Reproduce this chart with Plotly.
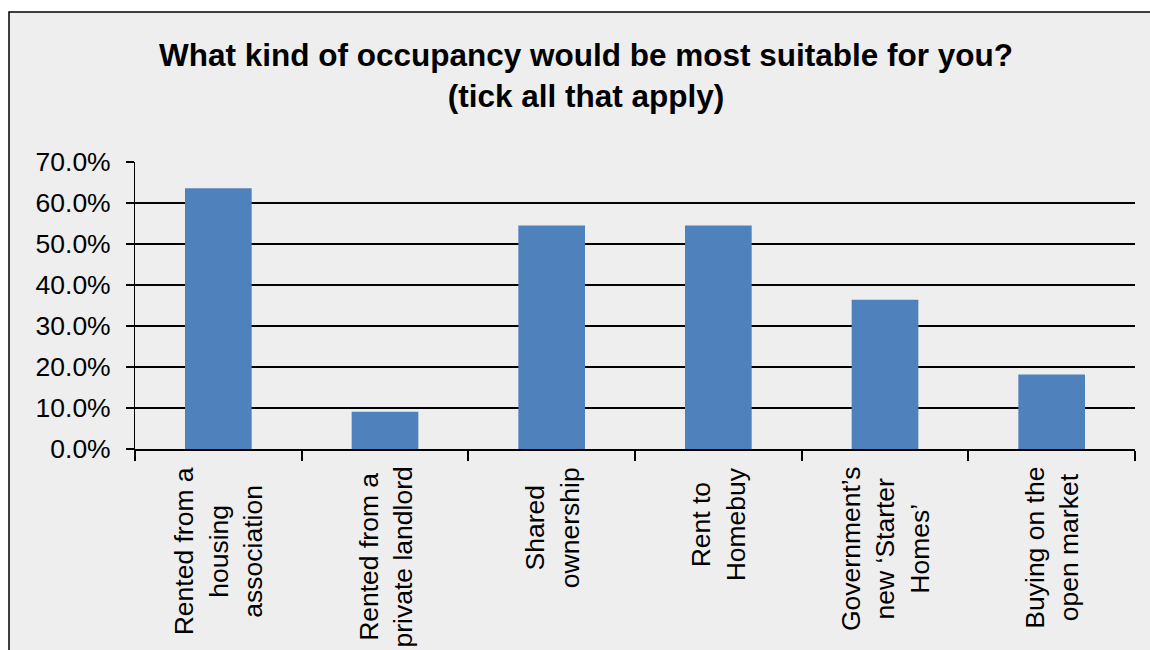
import plotly.graph_objects as go

# Survey responses: share of respondents choosing each occupancy type
categories = [
    "Rented from a<br>housing<br>association",
    "Rented from a<br>private landlord",
    "Shared<br>ownership",
    "Rent to<br>Homebuy",
    "Government’s<br>new ‘Starter<br>Homes’",
    "Buying on the<br>open market",
]
shares = [63.6, 9.1, 54.5, 54.5, 36.4, 18.2]
y_ticks = [0, 10, 20, 30, 40, 50, 60, 70]
y_tick_labels = [f"{v:.1f}%" for v in y_ticks]

W, H = 1150, 650
ML, MR, MT, MB = 135, 15, 162, 201
plot_w = W - ML - MR
plot_h = H - MT - MB

FONT = "Liberation Sans, Arial, sans-serif"
BLUE = "#4f81bd"
TICK_SIZE = 26.5

fig = go.Figure()
fig.add_trace(go.Bar(
    x=list(range(len(categories))),
    y=shares,
    marker=dict(color=BLUE, line=dict(width=0)),
    hoverinfo="skip",
))

# Category labels, rotated and centred under each bar
annotations = []
for i, lab in enumerate(categories):
    annotations.append(dict(
        x=i, xref="x",
        y=-(466 - (MT + plot_h)) / plot_h, yref="paper",
        text=lab, textangle=-90, showarrow=False,
        xanchor="center", yanchor="top", align="center",
        font=dict(family=FONT, size=TICK_SIZE, color="black"),
        borderpad=0,
    ))

# Grey chart panel with a black frame
shapes = [dict(
    type="rect", xref="paper", yref="paper", layer="below",
    x0=(9 - ML) / plot_w, x1=(W + 20 - ML) / plot_w,
    y0=-(H + 20 - (MT + plot_h)) / plot_h, y1=((MT + plot_h) - 12) / plot_h,
    fillcolor="#eeeeee", line=dict(color="black", width=1.5),
)]

fig.update_layout(
    width=W, height=H,
    margin=dict(l=ML, r=MR, t=MT, b=MB),
    paper_bgcolor="white",
    plot_bgcolor="rgba(0,0,0,0)",
    showlegend=False,
    bargap=0.6,
    font=dict(family=FONT, color="black"),
    title=dict(
        text="<b>What kind of occupancy would be most suitable for you?<br>(tick all that apply)</b>",
        x=586 / W, xanchor="center", xref="container",
        y=1 - 66 / H, yanchor="middle", yref="container",
        font=dict(family=FONT, size=31.5, color="black"),
    ),
    xaxis=dict(
        type="linear",
        range=[-0.5, len(categories) - 0.5],
        tickmode="array",
        tickvals=[i - 0.5 for i in range(len(categories) + 1)],
        ticktext=[""] * (len(categories) + 1),
        ticks="outside", ticklen=10, tickwidth=1.5, tickcolor="black",
        showgrid=False, zeroline=False,
        showline=True, linecolor="black", linewidth=2,
        fixedrange=True,
    ),
    yaxis=dict(
        range=[0, 70],
        tickmode="array", tickvals=y_ticks, ticktext=y_tick_labels,
        ticks="outside", ticklen=8, tickwidth=1.5, tickcolor="black",
        ticklabelstandoff=10,
        tickfont=dict(family=FONT, size=TICK_SIZE, color="black"),
        showgrid=True, gridcolor="black", gridwidth=1.5,
        zeroline=False,
        showline=True, linecolor="black", linewidth=1,
        fixedrange=True,
    ),
    annotations=annotations,
    shapes=shapes,
)

fig.write_html("out.html")
